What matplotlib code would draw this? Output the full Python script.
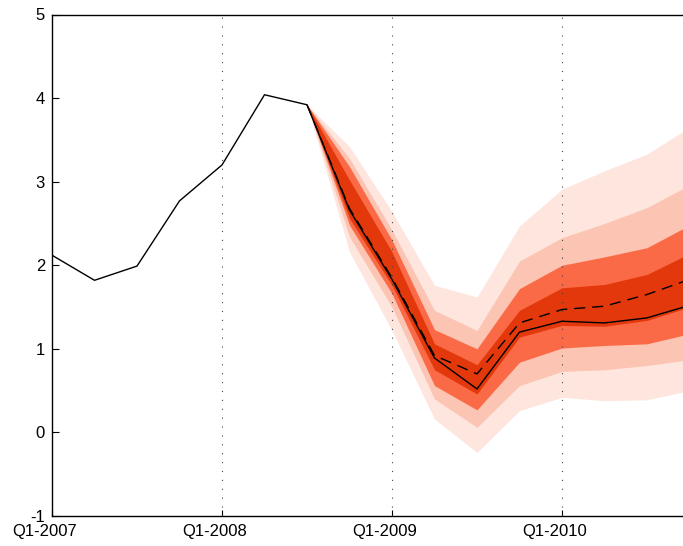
import numpy as np
import matplotlib.pyplot as plt
import matplotlib.transforms as mtransforms

plt.rcParams['font.family'] = ['Liberation Sans', 'DejaVu Sans']
plt.rcParams['axes.unicode_minus'] = False

# quarters Q1-2007 .. Q4-2010
quarters = ['Q1-2007', 'Q2-2007', 'Q3-2007', 'Q4-2007',
            'Q1-2008', 'Q2-2008', 'Q3-2008', 'Q4-2008',
            'Q1-2009', 'Q2-2009', 'Q3-2009', 'Q4-2009',
            'Q1-2010', 'Q2-2010', 'Q3-2010', 'Q4-2010']

# outcome / main forecast (solid line)
main_line = [2.12, 1.82, 1.99, 2.77, 3.20, 4.04, 3.92, 2.66,
             1.83, 0.89, 0.52, 1.20, 1.33, 1.31, 1.37, 1.52]

# fan starts at Q3-2008
fan_start = 6
mean_line = [3.92, 2.68, 1.85, 0.92, 0.70, 1.31, 1.47, 1.51, 1.65, 1.83]

lightest_top = [3.92, 3.42, 2.64, 1.76, 1.62, 2.47, 2.91, 3.13, 3.33, 3.65]
light_top = [3.92, 3.28, 2.42, 1.46, 1.22, 2.05, 2.33, 2.50, 2.69, 2.96]
medium_top = [3.92, 3.18, 2.30, 1.23, 1.00, 1.72, 2.00, 2.10, 2.21, 2.48]
dark_top = [3.92, 3.02, 2.16, 1.06, 0.81, 1.46, 1.73, 1.77, 1.89, 2.14]
dark_bot = [3.92, 2.56, 1.76, 0.75, 0.46, 1.14, 1.28, 1.27, 1.34, 1.50]
medium_bot = [3.92, 2.48, 1.66, 0.56, 0.27, 0.84, 1.01, 1.04, 1.06, 1.18]
light_bot = [3.92, 2.34, 1.50, 0.40, 0.06, 0.56, 0.73, 0.75, 0.80, 0.87]
lightest_bot = [3.92, 2.16, 1.22, 0.16, -0.24, 0.26, 0.42, 0.38, 0.39, 0.50]

x_all = np.arange(len(quarters))
x_fan = x_all[fan_start:]

fig = plt.figure(figsize=(6.83, 5.46), dpi=100)
# axes runs slightly past the right edge of the picture
ax = fig.add_axes([52 / 683, 1 - 516 / 546, 637.5 / 683, (516 - 14.5) / 546])

bands = [(lightest_bot, lightest_top, '#fee6df'),
         (light_bot, light_top, '#fcc4b2'),
         (medium_bot, medium_top, '#fb6a46'),
         (dark_bot, dark_top, '#e2380b')]
for lo, hi, col in bands:
    ax.fill_between(x_fan, lo, hi, color=col, lw=0, zorder=1)

ax.plot(x_fan, mean_line, color='black', lw=1.0, dashes=(8, 5), zorder=3)
ax.plot(x_all, main_line, color='black', lw=1.0, zorder=4)

ax.set_xlim(0, 15)
ax.set_ylim(-1, 5)
ax.set_yticks(range(-1, 6))
ax.set_xticks([0, 4, 8, 12])
ax.set_xticklabels([quarters[i] for i in [0, 4, 8, 12]])

for q in [4, 8, 12]:
    ax.axvline(q, color='#444444', lw=0.8, ls=(0, (1, 7)), zorder=2)

ax.tick_params(direction='in', length=5, width=0.8, labelsize=12, pad=5)
ax.tick_params(axis='x', length=4, pad=6)
ax.spines['right'].set_visible(False)
for s in ['left', 'bottom', 'top']:
    ax.spines[s].set_linewidth(1.0)

# x labels sit a little left of their ticks in the original
shift = mtransforms.ScaledTranslation(-7 / 100, 0, fig.dpi_scale_trans)
for lab in ax.get_xticklabels():
    lab.set_transform(lab.get_transform() + shift)

fig.savefig('out.png', dpi=100)
